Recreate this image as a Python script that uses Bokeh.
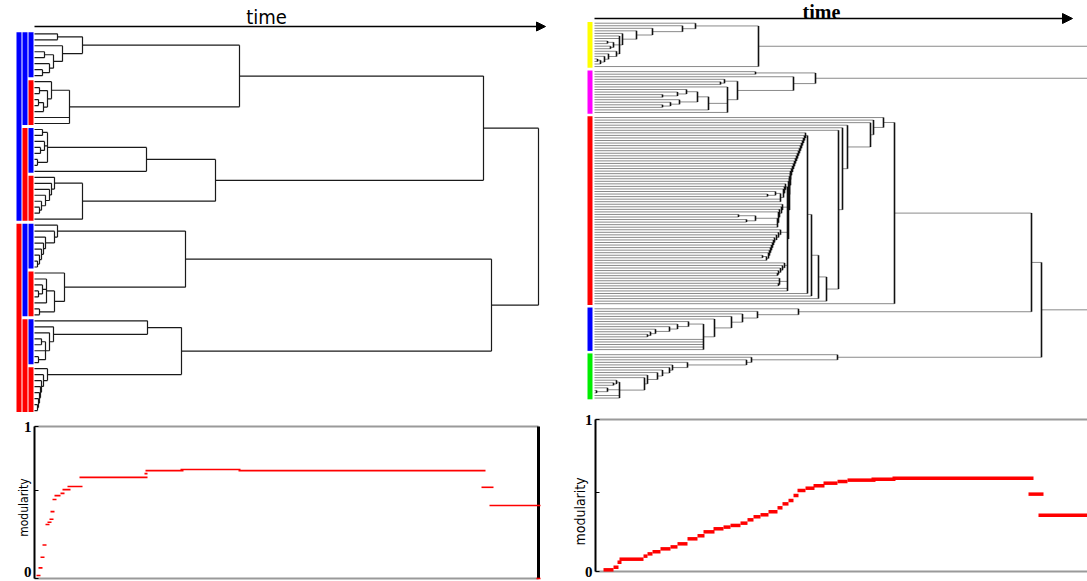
import math
from bokeh.plotting import figure
from bokeh.models import (Range1d, Arrow, NormalHead, Label, FixedTicker, LinearAxis,
                          CustomJSTickFormatter, ColumnDataSource)
from bokeh.embed import file_html
from bokeh.resources import INLINE

L = None  # a leaf


def cat(times, tail):
    """leaves joining one by one (caterpillar): times read from the top leaf down"""
    node = tail
    for t in reversed(times):
        node = [t, L, node]
    return node


# ---------------- left dendrogram: 64 nodes, 8 groups of 8 (merge times) ----------------
left_g1 = [48, [23, L, L], [28, L, [19, [10, L, L], [15, L, [8, L, L]]]]]
left_g2 = [35, [17, L, [13, [5, L, L], [9, [4, L, L], L]]], L, L]
left_g3 = [112, [13, [8, L, L], [10, L, [6, L, L]], [3, L, L]], L]
left_g4 = [48, cat([20, 17, 15, 11, 7], [5, L, L]), L]
left_g5 = cat([23, 20, 11, 9, 7, 5], [3, L, L])
left_g6 = [30, L, [20, [12, L, [8, L, [4, L, L]], L], [5, L, L]]]
left_g7 = cat([113, 19, 15], [11, [7, L, L], L, [4, L, L]])
left_g8 = cat([13, 9, 7, 6, 5, 4], [3, L, L])
left_tree = [504,
             [449, [205, left_g1, left_g2], [181, left_g3, left_g4]],
             [457, [151, left_g5, left_g6], [147, left_g7, left_g8]]]

left_bar_levels = [
    (["#0000ff", "#ff0000"], [32, 32]),
    (["#0000ff", "#ff0000", "#0000ff", "#ff0000"], [16, 16, 16, 16]),
    (["#0000ff", "#ff0000", "#0000ff", "#ff0000", "#0000ff", "#ff0000", "#0000ff", "#ff0000"],
     [8, 8, 8, 8, 8, 8, 8, 8]),
]

# ---------------- right dendrogram: 5 communities ----------------
right_yellow = [164,
                cat([101, 88, 58, 42, 28],
                    [25, L, L, [19, [13, L, L], [16, L, L]], cat([22, 14, 10], [6, [3, L, L], L])]),
                L]
right_magenta = [221,
                 [161, L, L],
                 [199, L,
                  [143,
                   [130, L, [126, L, L]],
                   [133, L,
                    [114,
                     [103, cat([92, 83], [68, L, L]), cat([85, 76], [68, L, L])],
                     L],
                    L]]]]
red_top_joins = [289, 279, 276, 253, 248, 244]
red_stair_joins = [211, 210, 209, 208, 207, 206, 205, 204, 203, 202,
                   201, 200, 199, 198, 197, 196, 196, 195, 195, 194]
red_bottom = [193,
              cat([191, 190, 189], [186, [181, L, [173, L, L]], L, L]),
              cat([188, 187, 185, 184], [183, [161, [144, L, L], [152, L, L]], L, L]),
              cat([186, 184, 182, 180, 179, 178, 177, 176, 175, 174], [172, [168, L, L], L]),
              cat([190, 188, 186, 184], [183, L, L]),
              [185, L, L, [184, L, L]],
              L, L]
right_red = [300,
             cat(red_top_joins,
                 [232, [224, [217, [213, cat(red_stair_joins, red_bottom), L], L], L], L]),
             L]
right_blue = cat([204, 163, 148, 137, 120],
                 [109, cat([94, 83, 75, 61, 56], [53, L, L]), L, L, L, L, L])
right_green = cat([243, 157, 152, 93, 78, 75, 68, 63, 53, 50],
                  [25, [22, L, [19, L, L]], [13, L, [2, L, L]], L, L])
right_groups = [right_yellow, right_magenta, right_red, right_blue, right_green]
right_colors = ["#ffff00", "#ff00ff", "#ff0000", "#0000ff", "#00ee00"]
right_tree = [560, right_yellow, right_magenta,
              [447, [437, right_red, right_blue], right_green]]

# ---------------- modularity curves (time start, time end, modularity) ----------------
mod_left_start = [2, 4, 6, 8, 11, 13, 15, 16, 18, 20, 26, 28, 33, 45, 110, 111, 146, 204, 447, 455, 502]
mod_left_end = [6, 8, 10, 12, 15, 17, 19, 20, 22, 26, 30, 36, 48, 113, 113, 149, 206, 451, 459, 506, 506]
mod_left_value = [0.02, 0.07, 0.14, 0.22, 0.355, 0.37, 0.39, 0.44, 0.52, 0.545, 0.56, 0.585,
                  0.605, 0.665, 0.69, 0.71, 0.717, 0.71, 0.60, 0.48, 0.0]

mod_right_start = [9, 19, 23, 25, 49, 53, 58, 66, 76, 83, 93, 103, 109, 119, 129, 136, 146, 153,
                   159, 166, 174, 183, 188, 194, 199, 203, 211, 219, 229, 243, 253, 277, 298, 434, 444]
mod_right_end = [19, 24, 27, 49, 53, 58, 66, 76, 83, 93, 103, 110, 120, 129, 136, 146, 153, 159,
                 166, 174, 183, 188, 194, 199, 204, 211, 220, 230, 243, 253, 281, 301, 439, 449, 493]
mod_right_value = [0.011, 0.028, 0.061, 0.081, 0.101, 0.116, 0.13, 0.149, 0.162, 0.182, 0.215,
                   0.235, 0.261, 0.281, 0.292, 0.303, 0.318, 0.34, 0.36, 0.373, 0.393, 0.419,
                   0.445, 0.467, 0.5, 0.533, 0.548, 0.564, 0.581, 0.592, 0.601, 0.607, 0.614,
                   0.509, 0.37]

# time span of each modularity panel and the unlabeled middle tick
mod_left_span = (0, 504)
mod_right_span = (1, 493)
mod_left_mid_tick = 0.58
mod_right_mid_tick = 0.52


# ---------------- helpers ----------------
def count_leaves(node):
    if node is None:
        return 1
    return sum(count_leaves(c) for c in node[1:])


def layout_tree(root, positions):
    it = iter(positions)
    h = dict(x0=[], x1=[], y=[])
    v = dict(x=[], y0=[], y1=[])

    def rec(node):
        if node is None:
            return 0.0, next(it)
        t = node[0]
        kids = [rec(c) for c in node[1:]]
        for ct, cy in kids:
            h["x0"].append(ct)
            h["x1"].append(t)
            h["y"].append(cy)
        v["x"].append(t)
        v["y0"].append(kids[0][1])
        v["y1"].append(kids[-1][1])
        return t, (kids[0][1] + kids[-1][1]) / 2.0

    rec(root)
    return ColumnDataSource(h), ColumnDataSource(v)


W, H = 1087, 581
NARROW = "DejaVu Sans Condensed"


def x_map(origin_px, px_per_unit):
    return Range1d((0 - origin_px) / px_per_unit, (W - origin_px) / px_per_unit)


def y_map(origin_px, px_per_unit):
    # page y grows downwards; range start is drawn at the bottom of the frame
    return Range1d((H - origin_px) / px_per_unit, (0 - origin_px) / px_per_unit)


p = figure(width=W, height=H, x_range=Range1d(0, W), y_range=Range1d(H, 0),
           x_axis_type=None, y_axis_type=None, output_backend="svg",
           toolbar_location=None, min_border=0)
p.min_border_left = 0
p.min_border_right = 0
p.min_border_top = 0
p.min_border_bottom = 0
p.outline_line_color = None
p.background_fill_color = "white"
p.border_fill_color = "white"

p.extra_x_ranges = {"tL": x_map(34, 1.0), "tR": x_map(594, 1.0)}
p.extra_y_ranges = {"iL": y_map(33.3, 5.98), "sR": y_map(22.7, 2.55),
                    "mL": y_map(578, -152.0), "mR": y_map(571, -152.0)}

LEFT = dict(x_range_name="tL", y_range_name="iL")
RIGHT = dict(x_range_name="tR", y_range_name="sR")
MODL = dict(x_range_name="tL", y_range_name="mL")
MODR = dict(x_range_name="tR", y_range_name="mR")

# ---------------- left dendrogram ----------------
n_left = count_leaves(left_tree)
hsrc, vsrc = layout_tree(left_tree, list(range(n_left)))
p.segment(x0="x0", y0="y", x1="x1", y1="y", source=hsrc, line_color="#1a1a1a", line_width=1.2, **LEFT)
p.segment(x0="x", y0="y0", x1="x", y1="y1", source=vsrc, line_color="#1a1a1a", line_width=1.2, **LEFT)

bar_x = [(-18, -13), (-12, -7), (-6, -1)]
for (xl, xr_), (cols, sizes) in zip(bar_x, left_bar_levels):
    tops, bots, colors = [], [], []
    start = 0
    for c, n in zip(cols, sizes):
        tops.append(start - 0.25)
        bots.append(start + n - 1 + 0.25)
        colors.append(c)
        start += n
    p.quad(left=xl, right=xr_, top=tops, bottom=bots, fill_color=colors, line_color=None, **LEFT)

p.add_layout(Arrow(end=NormalHead(size=9, fill_color="black", line_color="black"),
                   x_start=0, y_start=-1.22, x_end=511, y_end=-1.22,
                   line_width=1.5, line_color="black", **LEFT))
p.add_layout(Label(x=232, y=-2.8, text="time", text_font=NARROW,
                   text_font_size="20px", text_align="center", text_baseline="middle",
                   text_color="black", **LEFT))

# ---------------- right dendrogram ----------------
sizes = [count_leaves(g) for g in right_groups]
slots = []
firsts, lasts = [], []
off = 0
for n in sizes:
    firsts.append(off)
    lasts.append(off + n - 1)
    slots += [off + k for k in range(n)]
    off += n + 1

hsrc2, vsrc2 = layout_tree(right_tree, slots)
p.segment(x0="x0", y0="y", x1="x1", y1="y", source=hsrc2, line_color="#8a8a8a", line_width=1, **RIGHT)
p.segment(x0="x", y0="y0", x1="x", y1="y1", source=vsrc2, line_color="#111111", line_width=1.6, **RIGHT)
p.quad(left=-7, right=-2, top=[f - 0.5 for f in firsts], bottom=[l + 0.5 for l in lasts],
       fill_color=right_colors, line_color=None, **RIGHT)
p.add_layout(Arrow(end=NormalHead(size=10, fill_color="black", line_color="black"),
                   x_start=0, y_start=-1.84, x_end=478, y_end=-1.84,
                   line_width=1.5, line_color="black", **RIGHT))
p.add_layout(Label(x=227, y=-4.35, text="time", text_font="Liberation Serif", text_font_style="bold",
                   text_font_size="20px", text_align="center", text_baseline="middle",
                   text_color="black", **RIGHT))


# ---------------- modularity panels ----------------
def mod_axis(names, loc, mid_tick, code):
    ax = LinearAxis(fixed_location=loc, bounds=(0, 1),
                    ticker=FixedTicker(ticks=[0, mid_tick, 1]),
                    formatter=CustomJSTickFormatter(code=code),
                    **names)
    ax.major_tick_in = 4
    ax.major_tick_out = 0
    ax.minor_tick_line_color = None
    ax.axis_line_width = 2
    ax.axis_line_color = "black"
    ax.major_tick_line_color = "black"
    ax.major_label_standoff = 3
    ax.major_label_text_font = "Liberation Serif"
    ax.major_label_text_font_style = "bold"
    ax.major_label_text_font_size = "15px"
    ax.major_label_text_color = "black"
    p.add_layout(ax, "left")


for span, names in ((mod_left_span, MODL), (mod_right_span, MODR)):
    p.segment(x0=[span[0], span[0]], y0=[0, 1], x1=[span[1], span[1]], y1=[0, 1],
              line_color="#9a9a9a", line_width=2, **names)
p.segment(x0=[mod_left_span[1]], y0=[0], x1=[mod_left_span[1]], y1=[1],
          line_color="black", line_width=3, **MODL)

mod_axis(MODL, mod_left_span[0], mod_left_mid_tick, "return tick == 1 ? '1' : '';")
mod_axis(MODR, mod_right_span[0], mod_right_mid_tick,
         "return tick == 0 ? '0' : (tick == 1 ? '1' : '');")
# the left panel's '0' sits against the page bottom: lift it slightly so it stays visible
p.add_layout(Label(x=-3, y=0.045, text="0", text_font="Liberation Serif", text_font_style="bold",
                   text_font_size="15px", text_align="right", text_baseline="middle",
                   text_color="black", **MODL))

p.segment(x0=mod_left_start, y0=mod_left_value, x1=mod_left_end, y1=mod_left_value,
          line_color="#ff0000", line_width=1.6, **MODL)
p.segment(x0=mod_right_start, y0=mod_right_value, x1=mod_right_end, y1=mod_right_value,
          line_color="#ff0000", line_width=3.5, **MODR)

p.add_layout(Label(x=-11, y=0.467, angle=math.pi / 2, text="modularity",
                   text_font=NARROW, text_font_size="12px",
                   text_align="center", text_baseline="middle", text_color="black", **MODL))
p.add_layout(Label(x=-15, y=0.395, angle=math.pi / 2, text="modularity",
                   text_font=NARROW, text_font_size="14px",
                   text_align="center", text_baseline="middle", text_color="black", **MODR))

open("out.html", "w").write(file_html(p, INLINE))
